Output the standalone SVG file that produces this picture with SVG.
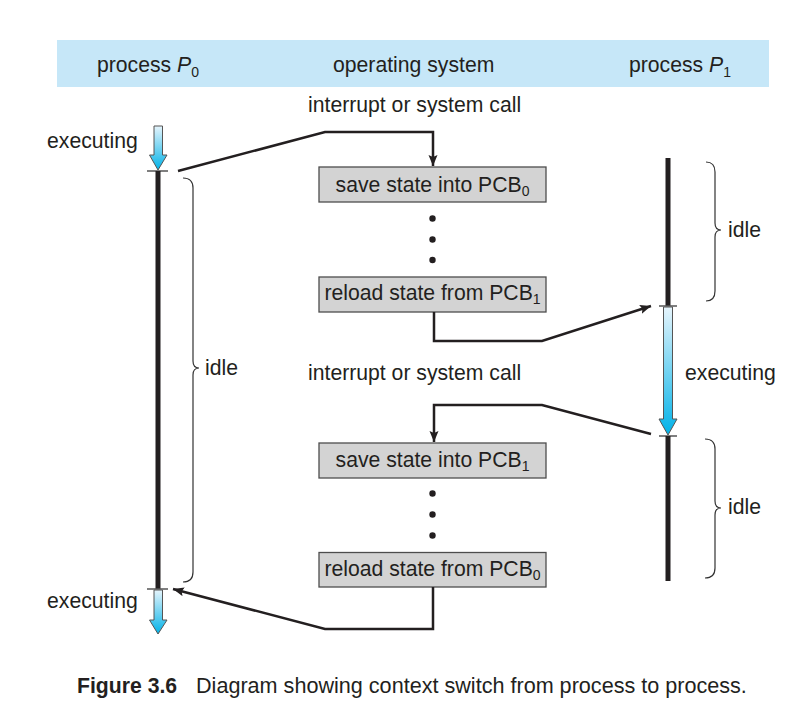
<svg xmlns="http://www.w3.org/2000/svg" width="792" height="717" viewBox="0 0 792 717">
<defs>
<linearGradient id="exec" x1="0" y1="0" x2="0" y2="1">
<stop offset="0" stop-color="#e6f4fc"/>
<stop offset="1" stop-color="#00b2e8"/>
</linearGradient>
<marker id="ah" markerUnits="userSpaceOnUse" markerWidth="12" markerHeight="10" refX="11" refY="4.5" orient="auto">
<path d="M0,0 L11,4.5 L0,9 L2,4.5 z" fill="#231f20"/>
</marker>
<style>
text{font-family:"Liberation Sans",Arial,Helvetica,sans-serif;font-size:21.2px;fill:#231f20}
.box{fill:#d3d3d3;stroke:#4d4d4d;stroke-width:1.3}
.conn{fill:none;stroke:#231f20;stroke-width:2.5;marker-end:url(#ah)}
.bar{stroke:#231f20;stroke-width:5}
.tick{stroke:#555;stroke-width:1.5}
.brace{fill:none;stroke:#333;stroke-width:1.2}
.arr{fill:url(#exec);stroke:#555;stroke-width:1}
.dot{fill:#231f20}
.mid{text-anchor:middle}
.sub{font-size:14px}
</style>
</defs>
<rect x="57" y="40" width="712" height="47" fill="#c6e7f8"/>
<g id="headers">
<text x="97" y="72">process <tspan font-style="italic">P</tspan><tspan class="sub" dy="5">0</tspan></text>
<text x="333" y="72">operating system</text>
<text x="629" y="72">process <tspan font-style="italic">P</tspan><tspan class="sub" dy="5">1</tspan></text>
</g>
<g id="p0">
<polygon class="arr" points="154,126 162.5,126 162.5,155 167,155 158,170 149.5,155 154,155"/>
<line class="tick" x1="147" y1="171" x2="168" y2="171"/>
<line class="bar" x1="158" y1="171" x2="158" y2="589"/>
<line class="tick" x1="147" y1="589" x2="168" y2="589"/>
<polygon class="arr" points="154,590 162.5,590 162.5,620 167,620 158,634 149.5,620 154,620"/>
<path class="brace" d="M183,178 Q193,178 193,188 L193,361 Q193,368 199,368 Q193,368 193,375 L193,572 Q193,582 183,582"/>
<text x="47" y="148">executing</text>
<text x="205" y="375">idle</text>
<text x="47" y="608">executing</text>
</g>
<g id="p1">
<line class="bar" x1="668" y1="158" x2="668" y2="306"/>
<line class="tick" x1="659" y1="306" x2="677" y2="306"/>
<polygon class="arr" points="663.5,307 672.5,307 672.5,419 677,419 668,435 659,419 663.5,419"/>
<line class="tick" x1="659" y1="436" x2="677" y2="436"/>
<line class="bar" x1="668" y1="436" x2="668" y2="581"/>
<path class="brace" d="M706,162 Q715,162 715,172 L715,223 Q715,230 721,230 Q715,230 715,237 L715,291 Q715,301 706,301"/>
<path class="brace" d="M705,439 Q715,439 715,449 L715,501 Q715,508 721,508 Q715,508 715,515 L715,568 Q715,578 705,578"/>
<text x="728" y="237">idle</text>
<text x="685" y="380">executing</text>
<text x="728" y="514">idle</text>
</g>
<g id="os">
<text x="308" y="112">interrupt or system call</text>
<g id="save0">
<rect class="box" x="319" y="167" width="227" height="35"/>
<text class="mid" x="432.5" y="192">save state into PCB<tspan class="sub" dy="4">0</tspan></text>
</g>
<circle class="dot" cx="432.5" cy="218.5" r="3.2"/>
<circle class="dot" cx="432.5" cy="239.5" r="3.2"/>
<circle class="dot" cx="432.5" cy="260" r="3.2"/>
<g id="reload1">
<rect class="box" x="319" y="277" width="227" height="35"/>
<text class="mid" x="432.5" y="300">reload state from PCB<tspan class="sub" dy="4">1</tspan></text>
</g>
<text x="308" y="380">interrupt or system call</text>
<g id="save1">
<rect class="box" x="319" y="443" width="227" height="35"/>
<text class="mid" x="432.5" y="467">save state into PCB<tspan class="sub" dy="4">1</tspan></text>
</g>
<circle class="dot" cx="432.5" cy="493.5" r="3.2"/>
<circle class="dot" cx="432.5" cy="514.5" r="3.2"/>
<circle class="dot" cx="432.5" cy="535.5" r="3.2"/>
<g id="reload0">
<rect class="box" x="319" y="552.5" width="227" height="34.5"/>
<text class="mid" x="432.5" y="576">reload state from PCB<tspan class="sub" dy="4">0</tspan></text>
</g>
</g>
<g id="connectors">
<path class="conn" d="M178,171 L325,132 L433,132 L433,166"/>
<path class="conn" d="M434,312 L434,341 L542,341 L651,306"/>
<path class="conn" d="M651,434 L542,405 L434,405 L434,442"/>
<path class="conn" d="M433,587 L433,629 L325,629 L173,589"/>
</g>
<text x="77" y="693"><tspan font-weight="bold">Figure 3.6</tspan><tspan x="196" font-size="21.6px">Diagram showing context switch from process to process.</tspan></text>
</svg>
